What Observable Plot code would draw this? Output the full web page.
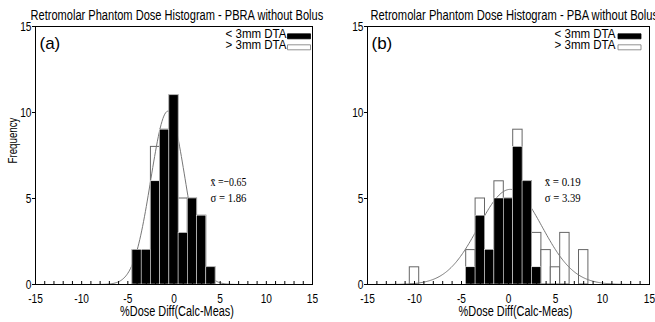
<!DOCTYPE html>
<html>
<head>
<meta charset="utf-8">
<script src="https://cdn.jsdelivr.net/npm/d3@7"></script>
<script src="https://cdn.jsdelivr.net/npm/@observablehq/plot@0.6"></script>
<style>
body { margin: 0; background: #fff; }
#wrap { position: relative; width: 655px; height: 322px; overflow: hidden; background: #fff; }
#wrap > svg { position: absolute; top: 0; }
</style>
</head>
<body>
<div id="wrap"></div>
<script>
// ---- data ----
const titleA = "Retromolar Phantom Dose Histogram - PBRA without Bolus";
const titleB = "Retromolar Phantom Dose Histogram - PBA without Bolus";
const tagA = "(a)";
const tagB = "(b)";
const legendLabels = ["< 3mm DTA", "> 3mm DTA"];
const xLabel = "%Dose Diff(Calc-Meas)";
const yLabel = "Frequency";
const xTicks = [-15, -10, -5, 0, 5, 10, 15];
const yTicks = [0, 5, 10, 15];

// panel (a): bin centres, total count, count within 3mm DTA
const binsA = [-4, -3, -2, -1, 0, 1, 2, 3, 4];
const totalA = [2, 2, 8, 9, 11, 5, 5, 4, 1];
const withinA = [2, 2, 6, 9, 11, 3, 5, 4, 1];
const meanA = -0.65, sdA = 1.86;

// panel (b)
const binsB = [-10, -4, -3, -2, -1, 0, 1, 2, 3, 4, 5, 6, 8];
const totalB = [1, 2, 5, 2, 6, 5, 9, 6, 3, 2, 1, 3, 2];
const withinB = [0, 1, 4, 2, 5, 5, 8, 6, 1, 0, 0, 0, 0];
const meanB = 0.19, sdB = 3.39;

const statsA = ["x\u0304 =\u22120.65", "\u03C3 = 1.86"];
const statsB = ["x\u0304 = 0.19", "\u03C3 = 3.39"];

const swatch = {draw(ctx) { ctx.rect(-11.5, -2.5, 23, 5); }};
const SANS = "'Liberation Sans', Arial, sans-serif";
const SERIF = "'Liberation Serif', 'Times New Roman', serif";

function panel(cfg) {
  const rows = cfg.bins.map((b, i) => ({x1: b - 0.5, x2: b + 0.5, total: cfg.total[i], within: cfg.within[i]}));
  const n = d3.sum(cfg.total);
  const k = n / (cfg.sd * Math.sqrt(2 * Math.PI));
  const curve = d3.range(-150, 151).map(i => {
    const x = i / 10;
    return {x, y: k * Math.exp(-0.5 * ((x - cfg.mean) / cfg.sd) ** 2)};
  });
  const marks = [
    Plot.rect(rows, {x1: "x1", x2: "x2", y1: 0, y2: "total", fill: "white", stroke: "#666", strokeWidth: 1}),
    Plot.line(curve, {x: "x", y: "y", stroke: "#777", strokeWidth: 1}),
    Plot.rect(rows.filter(d => d.within > 0), {x1: "x1", x2: "x2", y1: 0, y2: "within", fill: "black", stroke: "white", strokeWidth: 0.5}),
    Plot.frame({stroke: "black", strokeWidth: 1}),
    Plot.axisX({ticks: d3.range(-15, 16), tickSize: -3, tickPadding: 12, tickFormat: d => xTicks.includes(d) ? String(d) : "", label: null, fontSize: 13}),
    Plot.axisY({ticks: yTicks, tickSize: 3, tickPadding: 1, label: null, fontSize: 13}),
    Plot.text([cfg.title], {frameAnchor: "top-left", dx: cfg.titleDx, dy: -7, lineAnchor: "bottom", textAnchor: "start", fontSize: 14}),
    Plot.text([cfg.tag], {frameAnchor: "top-left", dx: 4, dy: 22, lineAnchor: "bottom", textAnchor: "start", fontSize: 17}),
    Plot.text([legendLabels[0]], {frameAnchor: "top-right", dx: cfg.legTextDx, dy: 11.5, lineAnchor: "bottom", textAnchor: "end", fontSize: 12.5}),
    Plot.text([legendLabels[1]], {frameAnchor: "top-right", dx: cfg.legTextDx, dy: 22.5, lineAnchor: "bottom", textAnchor: "end", fontSize: 12.5}),
    Plot.dot([0], {frameAnchor: "top-right", dx: cfg.legSwDx, dy: 9.8, symbol: swatch, fill: "black", stroke: "black", strokeWidth: 0.8}),
    Plot.dot([0], {frameAnchor: "top-right", dx: cfg.legSwDx, dy: 20.8, symbol: swatch, fill: "white", stroke: "#777", strokeWidth: 0.8}),
    Plot.text([xLabel], {frameAnchor: "bottom", dx: cfg.xLabelDx, dy: 31, lineAnchor: "bottom", textAnchor: "middle", fontSize: 14}),
    Plot.text([cfg.stats[0]], {x: cfg.statsX, y: 5.7, textAnchor: "start", lineAnchor: "bottom", fontFamily: SERIF, fontSize: 13.5}),
    Plot.text([cfg.stats[1]], {x: cfg.statsX, y: 4.8, textAnchor: "start", lineAnchor: "bottom", fontFamily: SERIF, fontSize: 13.5})
  ];
  if (cfg.showYLabel) {
    marks.push(Plot.text([yLabel], {frameAnchor: "left", dx: -18.3, dy: -15, rotate: -90, lineAnchor: "bottom", textAnchor: "middle", fontSize: 13}));
  }
  return Plot.plot({
    width: cfg.width,
    height: 322,
    marginLeft: cfg.marginLeft,
    marginRight: cfg.marginRight,
    marginTop: 26,
    marginBottom: 38,
    style: {fontFamily: SANS, background: "white", color: "black", overflow: "hidden"},
    x: {domain: [-15, 15]},
    y: {domain: [0, 15]},
    marks
  });
}

const wrap = document.getElementById("wrap");
const svgA = panel({bins: binsA, total: totalA, within: withinA, mean: meanA, sd: sdA, title: titleA, tag: tagA,
  stats: statsA, statsX: 3.95, width: 330, marginLeft: 35, marginRight: 18, titleDx: -5,
  legTextDx: -26, legSwDx: -13.5, xLabelDx: 3, showYLabel: true});
const svgB = panel({bins: binsB, total: totalB, within: withinB, mean: meanB, sd: sdB, title: titleB, tag: tagB,
  stats: statsB, statsX: 3.85, width: 325, marginLeft: 37, marginRight: 6, titleDx: 3,
  legTextDx: -34, legSwDx: -20, xLabelDx: 7, showYLabel: false});
svgA.style.left = "0px";
svgB.style.left = "330px";
wrap.appendChild(svgA);
wrap.appendChild(svgB);

// condensed lettering, as in the reference (Helvetica Narrow-like):
// squeeze each text along its own direction, keeping its anchor point fixed
function squeeze(el, f) {
  const tr = el.getAttribute("transform") || "";
  const x = parseFloat(el.getAttribute("x") || "0") || 0;
  el.setAttribute("transform", `${tr} translate(${x},0) scale(${f.toFixed(4)},1) translate(${-x},0)`);
}
function texts(svg) { return Array.from(svg.querySelectorAll("text")).filter(t => t.textContent.length > 0); }
for (const svg of [svgA, svgB]) {
  for (const t of texts(svg)) {
    const s = t.textContent;
    const w = t.getComputedTextLength();
    if (!w) continue;
    if (s === titleA) squeeze(t, 293 / w);
    else if (s === titleB) squeeze(t, 288 / w);
    else if (s === xLabel) squeeze(t, 114 / w);
    else if (s === yLabel) squeeze(t, 46 / w);
    else if (legendLabels.includes(s)) squeeze(t, 61 / w);
    else if (s === tagA || s === tagB) {}
    else if (statsA.includes(s) || statsB.includes(s)) squeeze(t, 36 / w);
    else squeeze(t, 0.78);
  }
}
</script>
</body>
</html>
